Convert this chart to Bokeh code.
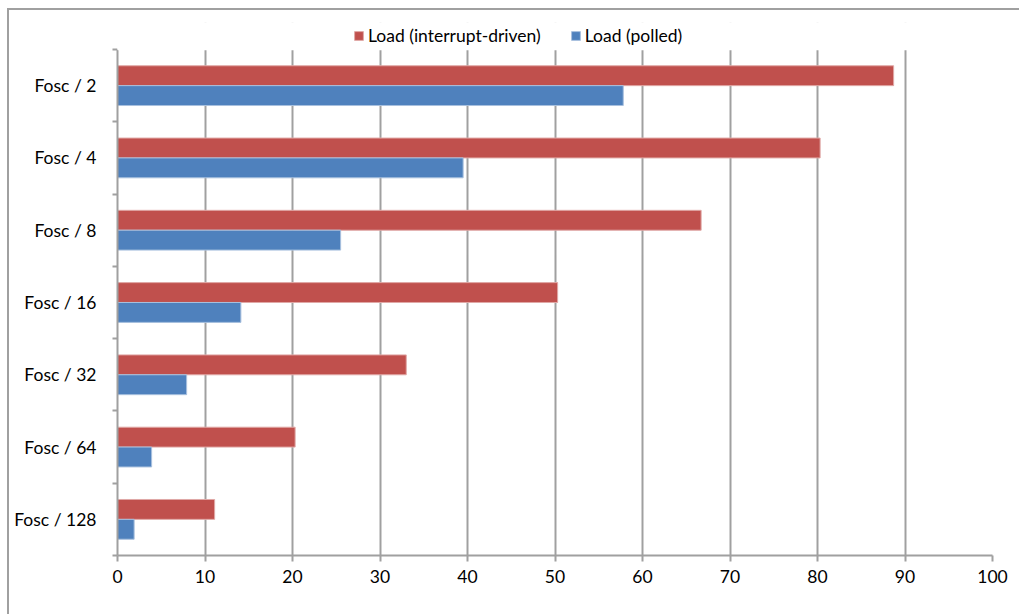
from bokeh.plotting import figure
from bokeh.models import (ColumnDataSource, Range1d, FixedTicker, LinearAxis, Legend, LegendItem,
                          BoxAnnotation)
from bokeh.transform import dodge
from bokeh.embed import file_html
from bokeh.resources import INLINE

# Bus load per clock divider
categories = ["Fosc / 2", "Fosc / 4", "Fosc / 8", "Fosc / 16", "Fosc / 32", "Fosc / 64", "Fosc / 128"]
load_interrupt = [88.7, 80.3, 66.7, 50.3, 33.0, 20.3, 11.1]
load_polled = [57.8, 39.5, 25.5, 14.1, 7.9, 3.9, 1.9]
x_ticks = list(range(0, 101, 10))

RED = "#C0504D"
BLUE = "#4F81BD"
GRAY = "#A0A0A0"
FONT = "Lato"
FONT_SIZE = "17.5px"

n = len(categories)
# first category on top: one unit-high band per category
slot = [n - 0.5 - i for i in range(n)]
source = ColumnDataSource(dict(cat=categories, slot=slot, interrupt=load_interrupt, polled=load_polled))

HEADROOM = 0.3735  # band above the bars that holds the legend

p = figure(
    width=1019, height=614,
    y_range=Range1d(0, n + HEADROOM),
    x_range=Range1d(0, 100),
    output_backend="svg", toolbar_location=None,
    y_axis_location=None, x_axis_location=None,
    min_border_left=117, min_border_right=27, min_border_top=22, min_border_bottom=59,
)
# chart-area frame: a 2px rule along the top and left edges, painted behind a transparent border area
p.border_fill_alpha = 0
p.styles = {
    "background-color": "white",
    "background-image": f"linear-gradient({GRAY}, {GRAY}), linear-gradient({GRAY}, {GRAY})",
    "background-position": "7px 8px, 7px 8px",
    "background-size": "1012px 2px, 2px 606px",
    "background-repeat": "no-repeat",
}
p.outline_line_color = None
p.background_fill_color = "white"

r_int = p.hbar(y=dodge("slot", 0.1375), left=0, right="interrupt", height=0.275,
               source=source, fill_color=RED, line_color="#E0A8A6", line_width=1)
r_pol = p.hbar(y=dodge("slot", -0.1375), left=0, right="polled", height=0.275,
               source=source, fill_color=BLUE, line_color="#A8C0DE", line_width=1)

# Category labels at band centres, tick marks at band boundaries
yaxis = LinearAxis(
    ticker=FixedTicker(ticks=slot, minor_ticks=list(range(n + 1))),
    major_label_overrides={s: name for s, name in zip(slot, categories)},
    bounds=(0, n),
    axis_line_color=GRAY, axis_line_width=2,
    major_tick_line_color=None, major_tick_out=0, major_tick_in=0,
    minor_tick_line_color=GRAY, minor_tick_line_width=2, minor_tick_out=5, minor_tick_in=0,
    major_label_standoff=16,
    major_label_text_font=FONT, major_label_text_font_size=FONT_SIZE, major_label_text_color="#000000",
)
p.add_layout(yaxis, "left")

xaxis = LinearAxis(
    ticker=FixedTicker(ticks=x_ticks),
    axis_line_color=GRAY, axis_line_width=2,
    major_tick_line_color=GRAY, major_tick_line_width=2, major_tick_out=6, major_tick_in=0,
    minor_tick_line_color=None,
    major_label_standoff=8,
    major_label_text_font=FONT, major_label_text_font_size=FONT_SIZE, major_label_text_color="#000000",
)
p.add_layout(xaxis, "below")

p.ygrid.visible = False
p.xgrid.ticker = FixedTicker(ticks=x_ticks)
p.xgrid.grid_line_color = GRAY
p.xgrid.grid_line_width = 2

# keep the gridlines out of the legend band
p.add_layout(BoxAnnotation(bottom=n + 0.01, fill_color="white", fill_alpha=1.0,
                           line_color="white", line_width=3, line_alpha=1.0))

legend = Legend(
    items=[LegendItem(label="Load (interrupt-driven)", renderers=[r_int]),
           LegendItem(label="Load (polled)", renderers=[r_pol])],
    orientation="horizontal", location=(236, 509),
    glyph_width=11, glyph_height=11, spacing=29, label_standoff=4,
    label_text_font=FONT, label_text_font_size=FONT_SIZE, label_text_color="#000000",
    border_line_color=None, background_fill_alpha=0, padding=0, margin=0,
)
p.add_layout(legend, "center")

open("out.html", "w").write(file_html(p, INLINE))
